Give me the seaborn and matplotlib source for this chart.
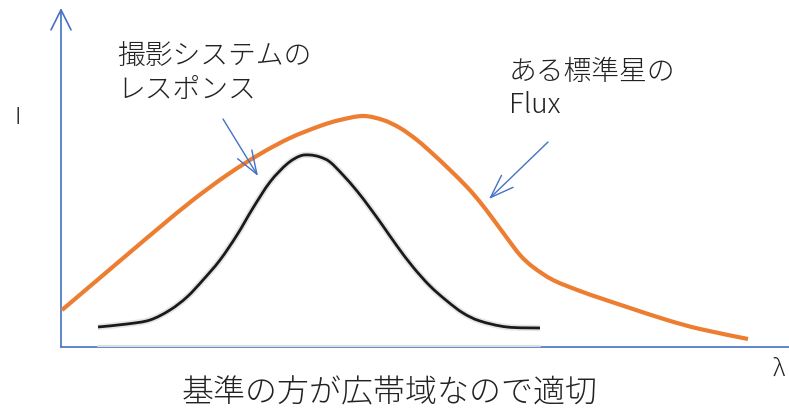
import matplotlib.pyplot as plt
import numpy as np
import seaborn as sns
from matplotlib.patches import PathPatch, Rectangle
from matplotlib.path import Path

sns.set_theme(style="white")
plt.rcParams["font.family"] = ["Noto Sans CJK JP", "DejaVu Sans"]

# star flux curve (pixel-like units, y grows downward)
flux_x = [62, 95, 128, 160, 193, 227, 260, 290, 320, 340, 363, 383, 400, 417,
          433, 450, 467, 480, 493, 507, 520, 533, 553, 580, 600, 630, 667, 700, 748]
flux_y = [310, 282, 254, 227, 200, 175, 154, 138, 126, 120, 116, 120, 128, 140,
          154, 170, 187, 202, 219, 238, 255, 267, 280, 291, 298, 308, 320, 329, 339]

# system response curve
resp_x = [98, 127, 150, 170, 187, 203, 220, 237, 253, 270, 287, 300, 310, 320, 330,
          343, 357, 370, 383, 397, 413, 430, 447, 463, 480, 507, 540]
resp_y = [327, 324, 320, 310, 297, 280, 260, 235, 208, 182, 164, 156, 155, 157, 162,
          175, 191, 208, 226, 246, 267, 286, 301, 313, 321, 327, 328]

blue = "#4472C4"
orange = "#ED7D31"


def smooth_path(xs, ys):
    # bezier path passing through every read point (catmull-rom tangents)
    p = np.column_stack([xs, ys]).astype(float)
    ext = np.vstack([p[0], p, p[-1]])
    verts = [p[0]]
    codes = [Path.MOVETO]
    for i in range(len(p) - 1):
        c1 = p[i] + (ext[i + 2] - ext[i]) / 6
        c2 = p[i + 1] - (ext[i + 3] - ext[i + 1]) / 6
        verts += [c1, c2, p[i + 1]]
        codes += [Path.CURVE4] * 3
    return Path(verts, codes)


def draw_curve(ax, xs, ys, **kw):
    ax.add_patch(PathPatch(smooth_path(xs, ys), fill=False, capstyle="butt",
                           joinstyle="round", **kw))


fig = plt.figure(figsize=(7.89, 4.12), dpi=100)
ax = fig.add_axes([0, 0, 1, 1])
ax.set_xlim(0, 789)
ax.set_ylim(412, 0)
ax.axis("off")

# axes with open arrow heads
axis_arrow = dict(arrowstyle="->,head_length=1.2,head_width=0.6",
                  color=blue, lw=1.2, shrinkA=0, shrinkB=0)
ax.annotate("", xy=(61, 8), xytext=(61, 347), arrowprops=axis_arrow,
            annotation_clip=False)
ax.annotate("", xy=(812, 347), xytext=(61, 347), arrowprops=axis_arrow,
            annotation_clip=False)

# pasted response picture hides part of the x axis
ax.add_patch(Rectangle((98, 135), 442, 211, facecolor="white", edgecolor="none", zorder=3))
ax.plot([98, 540], [346, 346], color="#dddddd", lw=1.5, zorder=3)

draw_curve(ax, resp_x, resp_y, edgecolor="#cccccc", lw=4.5, alpha=0.5, zorder=4)
draw_curve(ax, resp_x, resp_y, edgecolor="#1a1a1a", lw=2.0, zorder=5)
draw_curve(ax, flux_x, flux_y, edgecolor=orange, lw=3, zorder=6)

# annotation arrows
note_arrow = dict(arrowstyle="->,head_length=1.4,head_width=0.5",
                  color=blue, lw=1, shrinkA=0, shrinkB=0)
ax.annotate("", xy=(258, 176), xytext=(223, 119), arrowprops=note_arrow, zorder=7)
ax.annotate("", xy=(489, 199), xytext=(548, 142), arrowprops=note_arrow, zorder=7)

txt = dict(color="#222222", fontweight="light", zorder=8)
ax.text(117, 57, "撮影システムの", fontsize=20, va="center", ha="left", **txt)
ax.text(117, 90, "レスポンス", fontsize=20, va="center", ha="left", **txt)
ax.text(509, 72, "ある標準星の", fontsize=20, va="center", ha="left", **txt)
ax.text(509, 105, "Flux", fontsize=20, va="center", ha="left", **txt)
ax.text(18, 117, "I", fontsize=17, va="center", ha="center", **txt)
ax.text(779, 369, "λ", fontsize=17, va="center", ha="center", style="italic", **txt)
ax.text(390, 393, "基準の方が広帯域なので適切", fontsize=23, va="center", ha="center", **txt)

fig.savefig("out.png", dpi=100)
plt.close(fig)
